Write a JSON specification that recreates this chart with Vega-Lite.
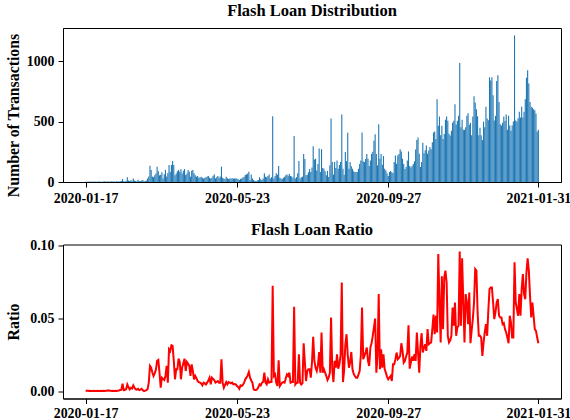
{
"$schema": "https://vega.github.io/schema/vega-lite/v6.json",
"background": "white",
"padding": {"left": 4, "top": 2, "right": 0, "bottom": 0},
"bounds": "flush",
"spacing": 62.5,
"config": {
  "font": "Liberation Serif",
  "view": {"stroke": "black", "strokeWidth": 1},
  "axis": {"labelFont": "Liberation Serif", "labelFontWeight": "bold", "labelFontSize": 13.9, "labelColor": "black", "titleFont": "Liberation Serif", "titleFontWeight": "bold", "titleFontSize": 15.8, "titleColor": "black", "tickColor": "black", "tickSize": 5, "tickWidth": 1, "domainColor": "black", "domainWidth": 1, "grid": false, "labelPadding": 4, "titlePadding": 5},
  "title": {"font": "Liberation Serif", "fontWeight": "bold", "fontSize": 16.5, "color": "black", "baseline": "alphabetic", "offset": 9, "frame": "group"}
},
"datasets": {"flash": [
{"d":"2020-01-17","n":2,"r":0.0005},{"d":"2020-01-18","n":3,"r":0.0004},{"d":"2020-01-19","n":2,"r":0.0004},{"d":"2020-01-20","n":4,"r":0.0003},{"d":"2020-01-21","n":3,"r":0.0004},{"d":"2020-01-22","n":2,"r":0.0003},{"d":"2020-01-23","n":5,"r":0.0003},{"d":"2020-01-24","n":3,"r":0.0004},{"d":"2020-01-25","n":4,"r":0.0003},{"d":"2020-01-26","n":2,"r":0.0003},{"d":"2020-01-27","n":3,"r":0.0004},{"d":"2020-01-28","n":5,"r":0.0003},{"d":"2020-01-29","n":4,"r":0.0003},{"d":"2020-01-30","n":3,"r":0.0004},{"d":"2020-01-31","n":2,"r":0.0003},
{"d":"2020-02-01","n":4,"r":0.0004},{"d":"2020-02-02","n":6,"r":0.0003},{"d":"2020-02-03","n":3,"r":0.0004},{"d":"2020-02-04","n":5,"r":0.0005},{"d":"2020-02-05","n":4,"r":0.0008},{"d":"2020-02-06","n":3,"r":0.0005},{"d":"2020-02-07","n":5,"r":0.0004},{"d":"2020-02-08","n":6,"r":0.0003},{"d":"2020-02-09","n":4,"r":0.0004},{"d":"2020-02-10","n":5,"r":0.0003},{"d":"2020-02-11","n":3,"r":0.0004},{"d":"2020-02-12","n":6,"r":0.0003},{"d":"2020-02-13","n":5,"r":0.0005},{"d":"2020-02-14","n":4,"r":0.0006},{"d":"2020-02-15","n":7,"r":0.001},{"d":"2020-02-16","n":8,"r":0.0012},{"d":"2020-02-17","n":25,"r":0.0053},{"d":"2020-02-18","n":6,"r":0.0009},{"d":"2020-02-19","n":5,"r":0.001},{"d":"2020-02-20","n":10,"r":0.0015},{"d":"2020-02-21","n":40,"r":0.0048},{"d":"2020-02-22","n":12,"r":0.0028},{"d":"2020-02-23","n":8,"r":0.0014},{"d":"2020-02-24","n":15,"r":0.0025},{"d":"2020-02-25","n":10,"r":0.002},{"d":"2020-02-26","n":28,"r":0.0041},{"d":"2020-02-27","n":12,"r":0.0025},{"d":"2020-02-28","n":9,"r":0.0014},{"d":"2020-02-29","n":7,"r":0.0012},
{"d":"2020-03-01","n":18,"r":0.0018},{"d":"2020-03-02","n":8,"r":0.0009},{"d":"2020-03-03","n":6,"r":0.0012},{"d":"2020-03-04","n":10,"r":0.0018},{"d":"2020-03-05","n":16,"r":0.0008},{"d":"2020-03-06","n":6,"r":0.0002},{"d":"2020-03-07","n":8,"r":0.0005},{"d":"2020-03-08","n":12,"r":0.0009},{"d":"2020-03-09","n":30,"r":0.0015},{"d":"2020-03-10","n":45,"r":0.006},{"d":"2020-03-11","n":135,"r":0.0175},{"d":"2020-03-12","n":100,"r":0.0163},{"d":"2020-03-13","n":45,"r":0.013},{"d":"2020-03-14","n":40,"r":0.0106},{"d":"2020-03-15","n":55,"r":0.0124},{"d":"2020-03-16","n":70,"r":0.015},{"d":"2020-03-17","n":126,"r":0.021},{"d":"2020-03-18","n":90,"r":0.0216},{"d":"2020-03-19","n":55,"r":0.0129},{"d":"2020-03-20","n":60,"r":0.0025},{"d":"2020-03-21","n":80,"r":0.0094},{"d":"2020-03-22","n":30,"r":0.0085},{"d":"2020-03-23","n":65,"r":0.0078},{"d":"2020-03-24","n":100,"r":0.0106},{"d":"2020-03-25","n":45,"r":0.0175},{"d":"2020-03-26","n":75,"r":0.006},{"d":"2020-03-27","n":140,"r":0.029},{"d":"2020-03-28","n":85,"r":0.0278},{"d":"2020-03-29","n":140,"r":0.0317},{"d":"2020-03-30","n":173,"r":0.0313},{"d":"2020-03-31","n":140,"r":0.021},
{"d":"2020-04-01","n":55,"r":0.0083},{"d":"2020-04-02","n":70,"r":0.0152},{"d":"2020-04-03","n":90,"r":0.0152},{"d":"2020-04-04","n":100,"r":0.0225},{"d":"2020-04-05","n":85,"r":0.0202},{"d":"2020-04-06","n":105,"r":0.0083},{"d":"2020-04-07","n":70,"r":0.0163},{"d":"2020-04-08","n":94,"r":0.0193},{"d":"2020-04-09","n":107,"r":0.0225},{"d":"2020-04-10","n":58,"r":0.014},{"d":"2020-04-11","n":70,"r":0.0202},{"d":"2020-04-12","n":99,"r":0.019},{"d":"2020-04-13","n":85,"r":0.0175},{"d":"2020-04-14","n":44,"r":0.0106},{"d":"2020-04-15","n":94,"r":0.0186},{"d":"2020-04-16","n":99,"r":0.014},{"d":"2020-04-17","n":72,"r":0.0083},{"d":"2020-04-18","n":55,"r":0.0106},{"d":"2020-04-19","n":44,"r":0.009},{"d":"2020-04-20","n":50,"r":0.0071},{"d":"2020-04-21","n":36,"r":0.0064},{"d":"2020-04-22","n":40,"r":0.006},{"d":"2020-04-23","n":44,"r":0.0055},{"d":"2020-04-24","n":35,"r":0.0041},{"d":"2020-04-25","n":30,"r":0.006},{"d":"2020-04-26","n":36,"r":0.0055},{"d":"2020-04-27","n":40,"r":0.0048},{"d":"2020-04-28","n":45,"r":0.006},{"d":"2020-04-29","n":50,"r":0.0075},{"d":"2020-04-30","n":36,"r":0.0094},
{"d":"2020-05-01","n":30,"r":0.0048},{"d":"2020-05-02","n":36,"r":0.0094},{"d":"2020-05-03","n":52,"r":0.0085},{"d":"2020-05-04","n":63,"r":0.0078},{"d":"2020-05-05","n":30,"r":0.006},{"d":"2020-05-06","n":40,"r":0.0065},{"d":"2020-05-07","n":50,"r":0.0071},{"d":"2020-05-08","n":36,"r":0.006},{"d":"2020-05-09","n":45,"r":0.006},{"d":"2020-05-10","n":127,"r":0.0221},{"d":"2020-05-11","n":36,"r":0.006},{"d":"2020-05-12","n":30,"r":0.0025},{"d":"2020-05-13","n":25,"r":0.0045},{"d":"2020-05-14","n":44,"r":0.0064},{"d":"2020-05-15","n":32,"r":0.0048},{"d":"2020-05-16","n":25,"r":0.0064},{"d":"2020-05-17","n":30,"r":0.006},{"d":"2020-05-18","n":30,"r":0.0055},{"d":"2020-05-19","n":32,"r":0.006},{"d":"2020-05-20","n":30,"r":0.0048},{"d":"2020-05-21","n":28,"r":0.005},{"d":"2020-05-22","n":30,"r":0.0048},{"d":"2020-05-23","n":30,"r":0.0037},{"d":"2020-05-24","n":22,"r":0.003},{"d":"2020-05-25","n":16,"r":0.0018},{"d":"2020-05-26","n":25,"r":0.0041},{"d":"2020-05-27","n":30,"r":0.0037},{"d":"2020-05-28","n":38,"r":0.0045},{"d":"2020-05-29","n":44,"r":0.006},{"d":"2020-05-30","n":58,"r":0.0083},{"d":"2020-05-31","n":63,"r":0.0094},
{"d":"2020-06-01","n":70,"r":0.011},{"d":"2020-06-02","n":85,"r":0.0133},{"d":"2020-06-03","n":16,"r":0.0094},{"d":"2020-06-04","n":63,"r":0.0075},{"d":"2020-06-05","n":30,"r":0.006},{"d":"2020-06-06","n":16,"r":0.0014},{"d":"2020-06-07","n":10,"r":0.001},{"d":"2020-06-08","n":8,"r":0.0009},{"d":"2020-06-09","n":12,"r":0.0014},{"d":"2020-06-10","n":16,"r":0.003},{"d":"2020-06-11","n":39,"r":0.0048},{"d":"2020-06-12","n":22,"r":0.0041},{"d":"2020-06-13","n":16,"r":0.006},{"d":"2020-06-14","n":30,"r":0.0065},{"d":"2020-06-15","n":72,"r":0.0129},{"d":"2020-06-16","n":44,"r":0.006},{"d":"2020-06-17","n":39,"r":0.0048},{"d":"2020-06-18","n":50,"r":0.0083},{"d":"2020-06-19","n":63,"r":0.006},{"d":"2020-06-20","n":30,"r":0.0064},{"d":"2020-06-21","n":40,"r":0.0064},{"d":"2020-06-22","n":545,"r":0.0726},{"d":"2020-06-23","n":30,"r":0.0106},{"d":"2020-06-24","n":50,"r":0.0117},{"d":"2020-06-25","n":72,"r":0.006},{"d":"2020-06-26","n":60,"r":0.0037},{"d":"2020-06-27","n":132,"r":0.0214},{"d":"2020-06-28","n":36,"r":0.0037},{"d":"2020-06-29","n":30,"r":0.005},{"d":"2020-06-30","n":25,"r":0.006},
{"d":"2020-07-01","n":35,"r":0.0064},{"d":"2020-07-02","n":44,"r":0.006},{"d":"2020-07-03","n":55,"r":0.009},{"d":"2020-07-04","n":63,"r":0.0117},{"d":"2020-07-05","n":52,"r":0.0106},{"d":"2020-07-06","n":66,"r":0.0129},{"d":"2020-07-07","n":50,"r":0.006},{"d":"2020-07-08","n":45,"r":0.0064},{"d":"2020-07-09","n":36,"r":0.0064},{"d":"2020-07-10","n":380,"r":0.0582},{"d":"2020-07-11","n":30,"r":0.0048},{"d":"2020-07-12","n":40,"r":0.006},{"d":"2020-07-13","n":72,"r":0.006},{"d":"2020-07-14","n":173,"r":0.0255},{"d":"2020-07-15","n":30,"r":0.006},{"d":"2020-07-16","n":40,"r":0.0048},{"d":"2020-07-17","n":44,"r":0.0055},{"d":"2020-07-18","n":231,"r":0.0331},{"d":"2020-07-19","n":190,"r":0.02},{"d":"2020-07-20","n":55,"r":0.0071},{"d":"2020-07-21","n":61,"r":0.014},{"d":"2020-07-22","n":80,"r":0.0152},{"d":"2020-07-23","n":107,"r":0.0152},{"d":"2020-07-24","n":83,"r":0.0094},{"d":"2020-07-25","n":120,"r":0.02},{"d":"2020-07-26","n":297,"r":0.0375},{"d":"2020-07-27","n":187,"r":0.021},{"d":"2020-07-28","n":193,"r":0.0163},{"d":"2020-07-29","n":96,"r":0.014},{"d":"2020-07-30","n":150,"r":0.018},{"d":"2020-07-31","n":278,"r":0.0271},
{"d":"2020-08-01","n":83,"r":0.0129},{"d":"2020-08-02","n":272,"r":0.0405},{"d":"2020-08-03","n":116,"r":0.0129},{"d":"2020-08-04","n":110,"r":0.0152},{"d":"2020-08-05","n":90,"r":0.013},{"d":"2020-08-06","n":55,"r":0.0106},{"d":"2020-08-07","n":91,"r":0.0078},{"d":"2020-08-08","n":41,"r":0.0095},{"d":"2020-08-09","n":138,"r":0.0129},{"d":"2020-08-10","n":526,"r":0.0508},{"d":"2020-08-11","n":165,"r":0.0152},{"d":"2020-08-12","n":63,"r":0.0064},{"d":"2020-08-13","n":165,"r":0.021},{"d":"2020-08-14","n":116,"r":0.0163},{"d":"2020-08-15","n":179,"r":0.0255},{"d":"2020-08-16","n":110,"r":0.0156},{"d":"2020-08-17","n":140,"r":0.0186},{"d":"2020-08-18","n":165,"r":0.025},{"d":"2020-08-19","n":559,"r":0.0749},{"d":"2020-08-20","n":110,"r":0.0064},{"d":"2020-08-21","n":61,"r":0.015},{"d":"2020-08-22","n":248,"r":0.0324},{"d":"2020-08-23","n":171,"r":0.0393},{"d":"2020-08-24","n":407,"r":0.025},{"d":"2020-08-25","n":110,"r":0.0163},{"d":"2020-08-26","n":165,"r":0.02},{"d":"2020-08-27","n":130,"r":0.0271},{"d":"2020-08-28","n":110,"r":0.0152},{"d":"2020-08-29","n":88,"r":0.012},{"d":"2020-08-30","n":83,"r":0.0106},{"d":"2020-08-31","n":83,"r":0.0094},
{"d":"2020-09-01","n":83,"r":0.0094},{"d":"2020-09-02","n":110,"r":0.0115},{"d":"2020-09-03","n":150,"r":0.014},{"d":"2020-09-04","n":179,"r":0.025},{"d":"2020-09-05","n":410,"r":0.0577},{"d":"2020-09-06","n":171,"r":0.0221},{"d":"2020-09-07","n":165,"r":0.0244},{"d":"2020-09-08","n":190,"r":0.027},{"d":"2020-09-09","n":231,"r":0.0301},{"d":"2020-09-10","n":193,"r":0.021},{"d":"2020-09-11","n":132,"r":0.0175},{"d":"2020-09-12","n":179,"r":0.0301},{"d":"2020-09-13","n":231,"r":0.033},{"d":"2020-09-14","n":250,"r":0.0382},{"d":"2020-09-15","n":341,"r":0.044},{"d":"2020-09-16","n":396,"r":0.0501},{"d":"2020-09-17","n":231,"r":0.0129},{"d":"2020-09-18","n":138,"r":0.0244},{"d":"2020-09-19","n":479,"r":0.0669},{"d":"2020-09-20","n":193,"r":0.0152},{"d":"2020-09-21","n":231,"r":0.029},{"d":"2020-09-22","n":143,"r":0.0163},{"d":"2020-09-23","n":215,"r":0.0255},{"d":"2020-09-24","n":110,"r":0.0152},{"d":"2020-09-25","n":96,"r":0.0129},{"d":"2020-09-26","n":70,"r":0.01},{"d":"2020-09-27","n":50,"r":0.0083},{"d":"2020-09-28","n":83,"r":0.0095},{"d":"2020-09-29","n":91,"r":0.0106},{"d":"2020-09-30","n":80,"r":0.0071},
{"d":"2020-10-01","n":74,"r":0.0186},{"d":"2020-10-02","n":165,"r":0.0186},{"d":"2020-10-03","n":220,"r":0.022},{"d":"2020-10-04","n":151,"r":0.0267},{"d":"2020-10-05","n":220,"r":0.0221},{"d":"2020-10-06","n":231,"r":0.023},{"d":"2020-10-07","n":272,"r":0.0244},{"d":"2020-10-08","n":253,"r":0.0331},{"d":"2020-10-09","n":193,"r":0.0278},{"d":"2020-10-10","n":150,"r":0.0198},{"d":"2020-10-11","n":107,"r":0.021},{"d":"2020-10-12","n":124,"r":0.024},{"d":"2020-10-13","n":179,"r":0.0267},{"d":"2020-10-14","n":253,"r":0.0455},{"d":"2020-10-15","n":132,"r":0.0156},{"d":"2020-10-16","n":121,"r":0.02},{"d":"2020-10-17","n":132,"r":0.0239},{"d":"2020-10-18","n":150,"r":0.021},{"d":"2020-10-19","n":171,"r":0.0255},{"d":"2020-10-20","n":270,"r":0.021},{"d":"2020-10-21","n":347,"r":0.0405},{"d":"2020-10-22","n":369,"r":0.0267},{"d":"2020-10-23","n":234,"r":0.0129},{"d":"2020-10-24","n":124,"r":0.0313},{"d":"2020-10-25","n":165,"r":0.04},{"d":"2020-10-26","n":325,"r":0.0267},{"d":"2020-10-27","n":237,"r":0.03},{"d":"2020-10-28","n":262,"r":0.0324},{"d":"2020-10-29","n":303,"r":0.0278},{"d":"2020-10-30","n":234,"r":0.0428},{"d":"2020-10-31","n":260,"r":0.0324},
{"d":"2020-11-01","n":289,"r":0.0331},{"d":"2020-11-02","n":272,"r":0.0336},{"d":"2020-11-03","n":330,"r":0.0428},{"d":"2020-11-04","n":410,"r":0.0528},{"d":"2020-11-05","n":418,"r":0.0393},{"d":"2020-11-06","n":355,"r":0.052},{"d":"2020-11-07","n":686,"r":0.0405},{"d":"2020-11-08","n":465,"r":0.0945},{"d":"2020-11-09","n":542,"r":0.0611},{"d":"2020-11-10","n":388,"r":0.0336},{"d":"2020-11-11","n":465,"r":0.0791},{"d":"2020-11-12","n":355,"r":0.0428},{"d":"2020-11-13","n":398,"r":0.0784},{"d":"2020-11-14","n":515,"r":0.083},{"d":"2020-11-15","n":542,"r":0.0749},{"d":"2020-11-16","n":507,"r":0.0382},{"d":"2020-11-17","n":400,"r":0.0336},{"d":"2020-11-18","n":385,"r":0.035},{"d":"2020-11-19","n":424,"r":0.0382},{"d":"2020-11-20","n":490,"r":0.0577},{"d":"2020-11-21","n":507,"r":0.0451},{"d":"2020-11-22","n":644,"r":0.0611},{"d":"2020-11-23","n":476,"r":0.0382},{"d":"2020-11-24","n":507,"r":0.0439},{"d":"2020-11-25","n":548,"r":0.0451},{"d":"2020-11-26","n":985,"r":0.0961},{"d":"2020-11-27","n":454,"r":0.0451},{"d":"2020-11-28","n":515,"r":0.0915},{"d":"2020-11-29","n":432,"r":0.0611},{"d":"2020-11-30","n":432,"r":0.0336},
{"d":"2020-12-01","n":454,"r":0.0669},{"d":"2020-12-02","n":548,"r":0.0611},{"d":"2020-12-03","n":570,"r":0.0462},{"d":"2020-12-04","n":473,"r":0.068},{"d":"2020-12-05","n":490,"r":0.0331},{"d":"2020-12-06","n":388,"r":0.042},{"d":"2020-12-07","n":542,"r":0.0497},{"d":"2020-12-08","n":710,"r":0.0611},{"d":"2020-12-09","n":658,"r":0.0841},{"d":"2020-12-10","n":603,"r":0.083},{"d":"2020-12-11","n":545,"r":0.0543},{"d":"2020-12-12","n":388,"r":0.0382},{"d":"2020-12-13","n":449,"r":0.0382},{"d":"2020-12-14","n":388,"r":0.037},{"d":"2020-12-15","n":347,"r":0.0244},{"d":"2020-12-16","n":498,"r":0.0336},{"d":"2020-12-17","n":454,"r":0.0405},{"d":"2020-12-18","n":622,"r":0.0462},{"d":"2020-12-19","n":526,"r":0.0382},{"d":"2020-12-20","n":512,"r":0.0554},{"d":"2020-12-21","n":867,"r":0.0703},{"d":"2020-12-22","n":840,"r":0.0715},{"d":"2020-12-23","n":867,"r":0.0715},{"d":"2020-12-24","n":719,"r":0.0611},{"d":"2020-12-25","n":509,"r":0.0497},{"d":"2020-12-26","n":548,"r":0.0543},{"d":"2020-12-27","n":837,"r":0.0611},{"d":"2020-12-28","n":884,"r":0.0634},{"d":"2020-12-29","n":663,"r":0.052},{"d":"2020-12-30","n":479,"r":0.0508},{"d":"2020-12-31","n":468,"r":0.0508},
{"d":"2021-01-01","n":490,"r":0.0462},{"d":"2021-01-02","n":542,"r":0.0469},{"d":"2021-01-03","n":504,"r":0.0428},{"d":"2021-01-04","n":559,"r":0.0405},{"d":"2021-01-05","n":432,"r":0.037},{"d":"2021-01-06","n":548,"r":0.0331},{"d":"2021-01-07","n":468,"r":0.052},{"d":"2021-01-08","n":424,"r":0.0474},{"d":"2021-01-09","n":468,"r":0.037},{"d":"2021-01-10","n":501,"r":0.037},{"d":"2021-01-11","n":1214,"r":0.0887},{"d":"2021-01-12","n":509,"r":0.0611},{"d":"2021-01-13","n":501,"r":0.0566},{"d":"2021-01-14","n":528,"r":0.052},{"d":"2021-01-15","n":581,"r":0.0669},{"d":"2021-01-16","n":534,"r":0.052},{"d":"2021-01-17","n":622,"r":0.0703},{"d":"2021-01-18","n":534,"r":0.0807},{"d":"2021-01-19","n":581,"r":0.0669},{"d":"2021-01-20","n":686,"r":0.0634},{"d":"2021-01-21","n":864,"r":0.0818},{"d":"2021-01-22","n":925,"r":0.0915},{"d":"2021-01-23","n":815,"r":0.083},{"d":"2021-01-24","n":663,"r":0.0657},{"d":"2021-01-25","n":622,"r":0.0508},{"d":"2021-01-26","n":614,"r":0.0611},{"d":"2021-01-27","n":603,"r":0.052},{"d":"2021-01-28","n":595,"r":0.0428},{"d":"2021-01-29","n":567,"r":0.0416},{"d":"2021-01-30","n":418,"r":0.037},{"d":"2021-01-31","n":432,"r":0.0331}
]},
"vconcat": [
  {
    "width": 498, "height": 154,
    "title": "Flash Loan Distribution",
    "data": {"name": "flash"},
    "mark": {"type": "bar", "color": "#1f77b4", "size": 1.1},
    "encoding": {
      "x": {"field": "d", "type": "temporal", "title": null,
        "scale": {"type": "utc", "padding": 0, "domain": [{"year": 2019, "month": 12, "date": 29, "utc": true}, {"year": 2021, "month": 2, "date": 19, "utc": true}]},
        "axis": {"values": [{"year": 2020, "month": 1, "date": 17, "utc": true}, {"year": 2020, "month": 5, "date": 23, "utc": true}, {"year": 2020, "month": 9, "date": 27, "utc": true}, {"year": 2021, "month": 1, "date": 31, "utc": true}], "format": "%Y-%m-%d", "labelFlush": false, "labelOverlap": false}},
      "y": {"field": "n", "type": "quantitative", "title": "Number of Transactions",
        "scale": {"domain": [0, 1275], "nice": false},
        "axis": {"values": [0, 500, 1000], "format": "d", "titleY": 87}}
    }
  },
  {
    "width": 498, "height": 154,
    "title": {"text": "Flash Loan Ratio", "offset": 0.5},
    "data": {"name": "flash"},
    "mark": {"type": "line", "color": "#ff0000", "strokeWidth": 2},
    "encoding": {
      "x": {"field": "d", "type": "temporal", "title": null,
        "scale": {"type": "utc", "domain": [{"year": 2019, "month": 12, "date": 29, "utc": true}, {"year": 2021, "month": 2, "date": 19, "utc": true}]},
        "axis": {"values": [{"year": 2020, "month": 1, "date": 17, "utc": true}, {"year": 2020, "month": 5, "date": 23, "utc": true}, {"year": 2020, "month": 9, "date": 27, "utc": true}, {"year": 2021, "month": 1, "date": 31, "utc": true}], "format": "%Y-%m-%d", "labelFlush": false, "labelOverlap": false, "labelPadding": 3}},
      "y": {"field": "r", "type": "quantitative", "title": "Ratio",
        "scale": {"domain": [-0.0049, 0.101], "nice": false, "zero": false},
        "axis": {"values": [0, 0.05, 0.1], "format": ".2f", "titlePadding": 8}}
    }
  }
]
}
